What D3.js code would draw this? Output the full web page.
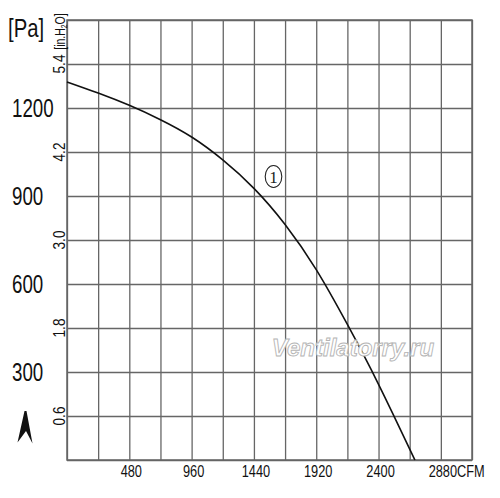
<!DOCTYPE html>
<html>
<head>
<meta charset="utf-8">
<script src="https://cdn.jsdelivr.net/npm/d3@7"></script>
<style>
  body { margin: 0; background: #fff; }
  #chart { width: 500px; height: 498px; }
</style>
</head>
<body>
<div id="chart"></div>
<script>
// fan curve
const flowCfm = [0, 240, 480, 720, 960, 1200, 1440, 1680, 1920, 2160, 2400, 2680];
const pressurePa = [1289, 1251, 1209, 1160, 1101, 1023, 926, 803, 649, 462, 258, 0];

const xTicks = [480, 960, 1440, 1920, 2400, 2880];
const paTicks = [300, 600, 900, 1200];
const inTicks = [0.6, 1.8, 3.0, 4.2, 5.4];
const xGridStep = 240;
const inGridStep = 0.6;

const width = 500, height = 498;
const margin = {top: 20, right: 28, bottom: 38, left: 67};
const innerW = width - margin.left - margin.right;
const innerH = height - margin.top - margin.bottom;

const svg = d3.select("#chart").append("svg")
    .attr("width", width)
    .attr("height", height);

const g = svg.append("g")
    .attr("transform", `translate(${margin.left},${margin.top})`);

const x = d3.scaleLinear().domain([0, 3120]).range([0, innerW]);
const yPa = d3.scaleLinear().domain([0, 1500]).range([innerH, 0]);
const yIn = d3.scaleLinear().domain([0, 6.0]).range([innerH, 0]);

const gridX = d3.range(0, 3120 + 1, xGridStep);
const gridY = d3.range(0, 6.0 + 0.001, inGridStep);

const font = "'Liberation Sans', Arial, sans-serif";
const gridColor = "#666";

// grid lines via axes
g.append("g")
    .attr("class", "grid-x")
    .call(d3.axisBottom(x).tickValues(gridX).tickSize(innerH).tickFormat(""))
    .call(a => a.select(".domain").remove());

g.append("g")
    .attr("class", "grid-y")
    .call(d3.axisLeft(yIn).tickValues(gridY).tickSize(-innerW).tickFormat(""))
    .call(a => a.select(".domain").remove());

g.selectAll(".grid-x line, .grid-y line")
    .attr("stroke", gridColor)
    .attr("stroke-width", 1.3);

g.append("rect")
    .attr("width", innerW)
    .attr("height", innerH)
    .attr("fill", "none")
    .attr("stroke", gridColor)
    .attr("stroke-width", 1.5);

// watermark
svg.append("text")
    .attr("x", 353)
    .attr("y", 356)
    .attr("text-anchor", "middle")
    .attr("font-family", font)
    .attr("font-style", "italic")
    .attr("font-weight", "bold")
    .attr("font-size", 24)
    .attr("fill", "#fff")
    .attr("stroke", "#b4b4b4")
    .attr("stroke-width", 0.9)
    .text("Ventilatorry.ru");

// curve
const line = d3.line()
    .x((d, i) => x(d))
    .y((d, i) => yPa(pressurePa[i]))
    .curve(d3.curveNatural);

g.append("path")
    .datum(flowCfm)
    .attr("fill", "none")
    .attr("stroke", "#111")
    .attr("stroke-width", 1.6)
    .attr("d", line);

// circled 1 label
const mark = svg.append("g").attr("transform", "translate(273.5,176.5)");
mark.append("ellipse")
    .attr("rx", 8.3)
    .attr("ry", 11)
    .attr("fill", "#fff")
    .attr("stroke", "#222")
    .attr("stroke-width", 1.1);
mark.append("text")
    .attr("y", 6)
    .attr("text-anchor", "middle")
    .attr("font-family", "'Liberation Serif', 'DejaVu Serif', serif")
    .attr("font-size", 17)
    .attr("fill", "#222")
    .text("1");

// Pa labels (left)
paTicks.forEach(v => {
    svg.append("g")
        .attr("transform", `translate(12,${margin.top + yPa(v) + 9}) scale(0.75,1)`)
        .append("text")
        .attr("font-family", font)
        .attr("font-size", 25)
        .attr("fill", "#111")
        .text(v);
});

svg.append("g")
    .attr("transform", "translate(8,37) scale(0.78,1)")
    .append("text")
    .attr("font-family", font)
    .attr("font-size", 26)
    .attr("fill", "#111")
    .text("[Pa]");

// in.H2O labels (rotated)
inTicks.forEach(v => {
    svg.append("g")
        .attr("transform", `translate(65,${margin.top + yIn(v)}) rotate(-90) scale(0.85,1)`)
        .append("text")
        .attr("text-anchor", "middle")
        .attr("font-family", font)
        .attr("font-size", 16)
        .attr("fill", "#111")
        .text(d3.format(".1f")(v));
});

const unit = svg.append("g")
    .attr("transform", "translate(65,31.5) rotate(-90) scale(0.75,1)")
    .append("text")
    .attr("text-anchor", "middle")
    .attr("font-family", font)
    .attr("font-size", 14)
    .attr("fill", "#111");
unit.append("tspan").text("[in.H");
unit.append("tspan").attr("font-size", 9).attr("dy", 2).text("2");
unit.append("tspan").attr("dy", -2).text("O]");

// x labels
xTicks.forEach((v, i) => {
    const cx = margin.left + x(v) + 2;
    const t = svg.append("g")
        .attr("transform", `translate(${cx},477) scale(0.8,1)`)
        .append("text")
        .attr("text-anchor", "middle")
        .attr("font-family", font)
        .attr("font-size", 16)
        .attr("fill", "#111")
        .text(v);
    if (i === xTicks.length - 1) {
        const w = t.node().getComputedTextLength() * 0.8;
        svg.append("g")
            .attr("transform", `translate(${cx + w / 2},477) scale(0.8,1)`)
            .append("text")
            .attr("font-family", font)
            .attr("font-size", 16)
            .attr("fill", "#111")
            .text("CFM");
    }
});

// small arrow mark at lower left
svg.append("path")
    .attr("d", "M24.5,411 L26.5,411 L32.5,443.5 L26,431 L17.5,442.5 Z")
    .attr("fill", "#111");
</script>
</body>
</html>
